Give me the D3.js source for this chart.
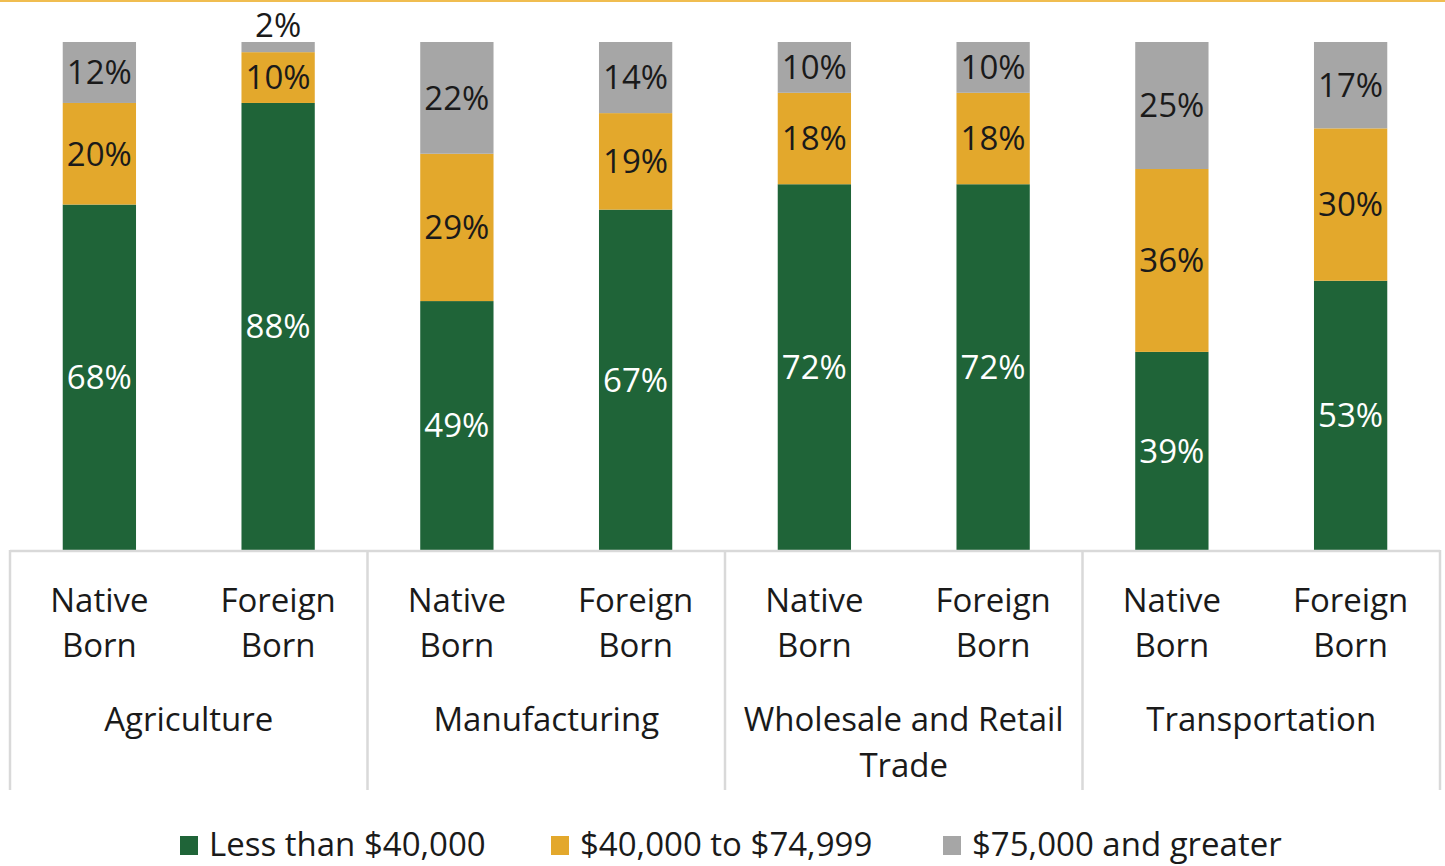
<!DOCTYPE html>
<html>
<head>
<meta charset="utf-8">
<script src="https://cdn.jsdelivr.net/npm/d3@7"></script>
<style>
  html, body { margin: 0; padding: 0; background: #ffffff; }
  svg { display: block; }
  text { font-family: "Open Sans", "Noto Sans", sans-serif; }
</style>
</head>
<body>
<svg id="chart" width="1445" height="866"></svg>
<script>
// ---- Data ----
const groups = ["Agriculture", "Manufacturing", "Wholesale and Retail Trade", "Transportation"];
const groupLabelLines = [["Agriculture"], ["Manufacturing"], ["Wholesale and Retail", "Trade"], ["Transportation"]];
const origins = ["Native Born", "Foreign Born"];
const originLabelLines = [["Native", "Born"], ["Foreign", "Born"]];
const seriesNames = ["Less than $40,000", "$40,000 to $74,999", "$75,000 and greater"];
// order: Agri Native, Agri Foreign, Manuf Native, Manuf Foreign, Wholesale Native, Wholesale Foreign, Transp Native, Transp Foreign
const lessThan40k   = [68, 88, 49, 67, 72, 72, 39, 53];
const from40to75k   = [20, 10, 29, 19, 18, 18, 36, 30];
const over75k       = [12,  2, 22, 14, 10, 10, 25, 17];
const seriesColors = ["#1f6438", "#e3a82c", "#a6a6a6"];
const labelColors = ["#ffffff", "#1a1a1a", "#1a1a1a"];

// ---- Build table ----
const rows = [];
groups.forEach((g, gi) => {
  origins.forEach((o, oi) => {
    const i = gi * 2 + oi;
    rows.push({ group: g, origin: o, s0: lessThan40k[i], s1: from40to75k[i], s2: over75k[i] });
  });
});
const keys = ["s0", "s1", "s2"];
const stacked = d3.stack().keys(keys)(rows);

// ---- Layout ----
const svg = d3.select("#chart");
const W = 1445, H = 866;
const plotLeft = 10, plotRight = 1440, plotTop = 42, plotBottom = 550;

// top accent line
svg.append("rect").attr("x", 0).attr("y", 0).attr("width", W).attr("height", 2).attr("fill", "#f0bd50");

const x0 = d3.scaleBand().domain(groups).range([plotLeft, plotRight]).paddingInner(0).paddingOuter(0);
const x1 = d3.scaleBand().domain(origins).range([0, x0.bandwidth()]).paddingInner(0.59).paddingOuter(0.295);
const y = d3.scaleLinear().domain([0, 100]).range([plotBottom, plotTop]);

const fontSize = 33;

// bars
const layer = svg.append("g");
stacked.forEach((s, si) => {
  const g = layer.append("g").attr("fill", seriesColors[si]);
  g.selectAll("rect").data(s).join("rect")
    .attr("x", d => x0(d.data.group) + x1(d.data.origin))
    .attr("width", x1.bandwidth())
    .attr("y", d => y(d[1]))
    .attr("height", d => y(d[0]) - y(d[1]));
});

// data labels
stacked.forEach((s, si) => {
  svg.append("g").selectAll("text").data(s).join("text")
    .attr("x", d => x0(d.data.group) + x1(d.data.origin) + x1.bandwidth() / 2)
    .attr("y", d => {
      const v = d[1] - d[0];
      if (v < 5) return y(d[1]) - 5;
      return (y(d[0]) + y(d[1])) / 2;
    })
    .attr("dy", d => (d[1] - d[0]) < 5 ? "0" : "0.36em")
    .attr("text-anchor", "middle")
    .attr("font-size", fontSize)
    .attr("fill", d => (d[1] - d[0]) < 5 ? "#1a1a1a" : labelColors[si])
    .text(d => (d[1] - d[0]) + "%");
});

// axis: horizontal line and group dividers
const axisColor = "#d9d9d9";
svg.append("line").attr("x1", plotLeft).attr("x2", plotRight)
  .attr("y1", plotBottom + 1).attr("y2", plotBottom + 1)
  .attr("stroke", axisColor).attr("stroke-width", 2.5);
const dividerXs = groups.map(g => x0(g)).concat([plotRight]);
svg.append("g").selectAll("line").data(dividerXs).join("line")
  .attr("x1", d => d).attr("x2", d => d)
  .attr("y1", plotBottom).attr("y2", 790)
  .attr("stroke", axisColor).attr("stroke-width", 2.5);

// origin labels
groups.forEach(g => {
  origins.forEach((o, oi) => {
    const cx = x0(g) + x1(o) + x1.bandwidth() / 2;
    const t = svg.append("text").attr("text-anchor", "middle").attr("font-size", fontSize).attr("fill", "#1a1a1a");
    originLabelLines[oi].forEach((line, li) => {
      t.append("tspan").attr("x", cx).attr("y", 612 + li * 45).text(line);
    });
  });
});

// group labels
groups.forEach((g, gi) => {
  const cx = x0(g) + x0.bandwidth() / 2;
  const t = svg.append("text").attr("text-anchor", "middle").attr("font-size", fontSize).attr("fill", "#1a1a1a");
  groupLabelLines[gi].forEach((line, li) => {
    t.append("tspan").attr("x", cx).attr("y", 731 + li * 46).text(line);
  });
});

// legend
const legendItems = [
  { name: seriesNames[0], color: seriesColors[0], x: 180 },
  { name: seriesNames[1], color: seriesColors[1], x: 551 },
  { name: seriesNames[2], color: seriesColors[2], x: 943 }
];
const lg = svg.append("g");
legendItems.forEach(it => {
  lg.append("rect").attr("x", it.x).attr("y", 836).attr("width", 18).attr("height", 19).attr("fill", it.color);
  lg.append("text").attr("x", it.x + 29).attr("y", 856).attr("font-size", fontSize).attr("fill", "#1a1a1a").text(it.name);
});
</script>
</body>
</html>
